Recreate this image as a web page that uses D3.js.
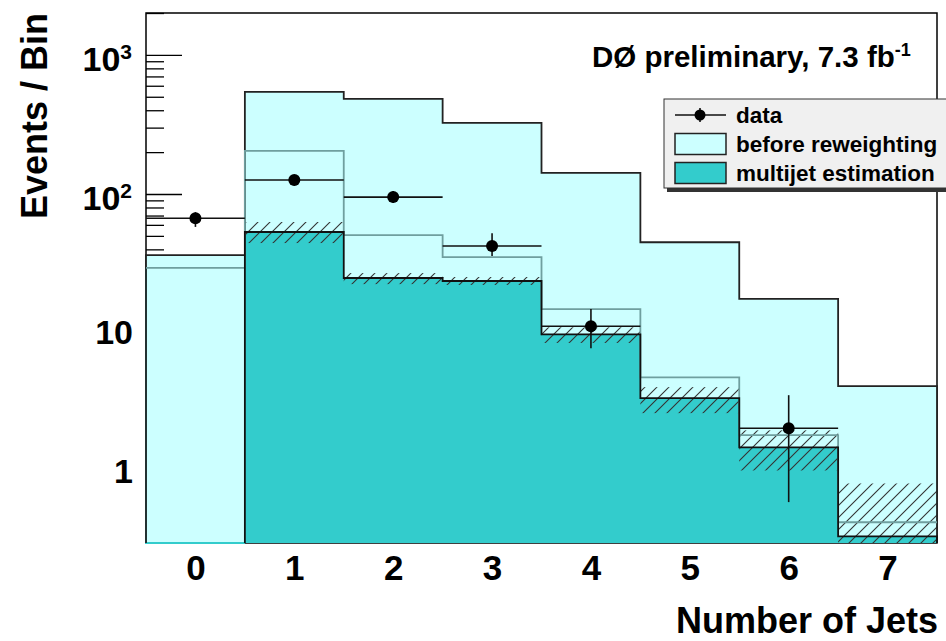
<!DOCTYPE html>
<html>
<head>
<meta charset="utf-8">
<script src="https://cdn.jsdelivr.net/npm/d3@7"></script>
<style>
  body { margin: 0; background: #fff; }
  svg { display: block; }
  text { font-family: "Liberation Sans", Arial, sans-serif; font-weight: bold; fill: #000; }
</style>
</head>
<body>
<svg width="946" height="641"></svg>
<script>
// number of jets
var bins = [0, 1, 2, 3, 4, 5, 6, 7];
// tall light histogram, black outline
var beforeReweight = [36.4, 542, 482, 324, 142, 45, 17.6, 4.16];
// second light histogram, grey outline
var greyHist = [29.4, 204, 50.7, 35.2, 14.9, 4.8, 1.85, 0.437];
// multijet estimation (teal)
var multijet = [null, 53.3, 24.9, 23.7, 9.8, 3.41, 1.51, 0.346];
// hatched uncertainty band on the multijet estimation
var bandLo = [null, 44.4, 22.5, 22.2, 8.5, 2.66, 1.03, 0.2];
var bandHi = [null, 62.9, 27.0, 25.3, 11.0, 4.09, 2.0, 0.83];
// data points and errors
var dataVal = [67, 126, 95, 42.3, 11.2, null, 2.07, null];
var dataLo = [58, 115, 86, 35.9, 7.8, null, 0.61, null];
var dataHi = [74, 137, 105, 52.3, 14.9, null, 3.58, null];

var yMajor = [1, 10, 100, 1000];
var legendLabels = ["data", "before reweighting", "multijet estimation"];

var lightCyan = "#ccffff",
    teal = "#33cccc",
    greyLine = "#6f9f9f";

var svg = d3.select("svg");
var pLeft = 146, pRight = 937, pTop = 13, pBottom = 543;

var x = d3.scaleLinear().domain([-0.5, 7.5]).range([pLeft, pRight]);
var y = d3.scaleLog().domain([0.31, 2000]).range([pBottom, pTop]).clamp(true);
var yv = function (v) { return v == null ? pBottom : y(v); };

var defs = svg.append("defs");
var pat = defs.append("pattern")
    .attr("id", "hatch")
    .attr("patternUnits", "userSpaceOnUse")
    .attr("width", 12).attr("height", 12);
pat.append("path")
    .attr("d", "M-3,3 l6,-6 M0,12 l12,-12 M9,15 l6,-6")
    .attr("stroke", "#333").attr("stroke-width", 1.1);

// frame (fills are drawn on top of it, like in the original)
svg.append("rect")
    .attr("x", pLeft).attr("y", pTop)
    .attr("width", pRight - pLeft).attr("height", pBottom - pTop)
    .attr("fill", "none").attr("stroke", "#000").attr("stroke-width", 1.5);

// y axis ticks, pointing inwards
var minorTicks = [];
[0.1, 1, 10, 100, 1000].forEach(function (d) {
  for (var k = 2; k <= 9; k++) minorTicks.push(d * k);
});
minorTicks = minorTicks.filter(function (v) { return v >= 0.31 && v <= 2000; });

svg.append("g")
    .attr("transform", "translate(" + pLeft + ",0)")
    .call(d3.axisLeft(y).tickValues(minorTicks).tickSizeInner(-18).tickSizeOuter(0).tickFormat(""))
    .call(function (g) { g.select(".domain").remove(); })
    .selectAll("line").attr("stroke", "#000").attr("stroke-width", 1.3);

var yAxisG = svg.append("g")
    .attr("transform", "translate(" + pLeft + ",0)")
    .call(d3.axisLeft(y).tickValues(yMajor).tickSizeInner(-36).tickSizeOuter(0).tickPadding(13).tickFormat(""));
yAxisG.select(".domain").remove();
yAxisG.selectAll("line").attr("stroke", "#000").attr("stroke-width", 1.3);

// step path helper
function stepPoints(vals) {
  var pts = [[x(bins[0] - 0.5), pBottom]];
  vals.forEach(function (v, i) {
    pts.push([x(bins[i] - 0.5), yv(v)]);
    pts.push([x(bins[i] + 0.5), yv(v)]);
  });
  pts.push([x(bins[bins.length - 1] + 0.5), pBottom]);
  return pts;
}
var line = d3.line();

// fills
svg.append("path").attr("d", line(stepPoints(beforeReweight)) + "Z")
    .attr("fill", lightCyan).attr("stroke", "none");
svg.append("path").attr("d", line(stepPoints(multijet)) + "Z")
    .attr("fill", teal).attr("stroke", "none");

// teal edge of bin 0
svg.append("path")
    .attr("d", line([[x(-0.5), yv(greyHist[0])], [x(-0.5), pBottom], [x(0.5), pBottom]]))
    .attr("fill", "none").attr("stroke", teal).attr("stroke-width", 2);

// hatched band
svg.append("g").selectAll("rect")
    .data(bins.filter(function (d, i) { return bandHi[i] != null; }))
    .enter().append("rect")
    .attr("x", function (d) { return x(d - 0.5); })
    .attr("width", function (d) { return x(d + 0.5) - x(d - 0.5); })
    .attr("y", function (d) { return y(bandHi[d]); })
    .attr("height", function (d) { return yv(bandLo[d]) - y(bandHi[d]); })
    .attr("fill", "url(#hatch)");

// outlines
svg.append("path").attr("d", line(stepPoints(beforeReweight)))
    .attr("fill", "none").attr("stroke", "#222").attr("stroke-width", 1.8);
svg.append("path").attr("d", line(stepPoints(greyHist).slice(1, -1)))
    .attr("fill", "none").attr("stroke", greyLine).attr("stroke-width", 1.8);
svg.append("path").attr("d", line(stepPoints(multijet).slice(2)))
    .attr("fill", "none").attr("stroke", "#111").attr("stroke-width", 1.8);

// data points
var pts = svg.append("g").selectAll("g")
    .data(bins.filter(function (d, i) { return dataVal[i] != null; }))
    .enter().append("g");
pts.append("line")
    .attr("x1", function (d) { return x(d - 0.5); })
    .attr("x2", function (d) { return x(d + 0.5); })
    .attr("y1", function (d) { return y(dataVal[d]); })
    .attr("y2", function (d) { return y(dataVal[d]); })
    .attr("stroke", "#111").attr("stroke-width", 1.6);
pts.append("line")
    .attr("x1", function (d) { return x(d); })
    .attr("x2", function (d) { return x(d); })
    .attr("y1", function (d) { return y(dataLo[d]); })
    .attr("y2", function (d) { return y(dataHi[d]); })
    .attr("stroke", "#111").attr("stroke-width", 1.6);
pts.append("circle")
    .attr("cx", function (d) { return x(d); })
    .attr("cy", function (d) { return y(dataVal[d]); })
    .attr("r", 6).attr("fill", "#000");

// y tick labels
yMajor.forEach(function (v) {
  var e = Math.round(Math.log10(v));
  if (v >= 100) {
    var t = svg.append("text")
        .attr("x", pLeft - 14).attr("y", y(v) + 16)
        .attr("text-anchor", "end")
        .style("font-size", "34px");
    t.append("tspan").text("10");
    t.append("tspan").attr("dy", -12).style("font-size", "21px").text(e);
  } else {
    svg.append("text")
        .attr("x", pLeft - 13).attr("y", y(v) + 11)
        .attr("text-anchor", "end")
        .style("font-size", "34px")
        .text(v);
  }
});

// x tick labels
svg.append("g")
    .attr("transform", "translate(0," + pBottom + ")")
    .call(d3.axisBottom(x).tickValues(bins).tickSize(0).tickPadding(0).tickFormat(d3.format("d")))
    .call(function (g) { g.select(".domain").remove(); })
    .selectAll("text")
    .attr("dy", null).attr("y", 37)
    .style("font-size", "35px")
    .style("font-family", "'Liberation Sans', Arial, sans-serif")
    .style("font-weight", "bold")
    .attr("fill", "#000");

// axis titles
svg.append("text")
    .attr("x", 938).attr("y", 633)
    .attr("text-anchor", "end")
    .style("font-size", "36px")
    .text("Number of Jets");

svg.append("text")
    .attr("transform", "translate(47,13) rotate(-90)")
    .attr("text-anchor", "end")
    .style("font-size", "36px")
    .text("Events / Bin");

// experiment label
var lab = svg.append("text")
    .attr("x", 592).attr("y", 67)
    .style("font-size", "29.5px");
lab.append("tspan").text("DØ preliminary, 7.3 fb");
lab.append("tspan").attr("dy", -11).style("font-size", "18px").text("-1");

// legend
var lg = svg.append("g").attr("transform", "translate(664,99)");
lg.append("rect").attr("x", 3).attr("y", 3).attr("width", 290).attr("height", 90).attr("fill", "#333");
lg.append("rect").attr("width", 290).attr("height", 89)
    .attr("fill", "#f0f0f0").attr("stroke", "#333").attr("stroke-width", 1);

var rowY = [16, 45, 74];
var row = lg.selectAll(".row")
    .data(legendLabels)
    .enter().append("g")
    .attr("class", "row")
    .attr("transform", function (d, i) { return "translate(0," + rowY[i] + ")"; });

row.append("text")
    .attr("x", 72).attr("y", 8)
    .style("font-size", "22.5px")
    .text(function (d) { return d; });

var dataRow = row.filter(function (d, i) { return i === 0; });
dataRow.append("line").attr("x1", 11).attr("x2", 62).attr("y1", 0).attr("y2", 0)
    .attr("stroke", "#111").attr("stroke-width", 1.6);
dataRow.append("line").attr("x1", 36).attr("x2", 36).attr("y1", -7).attr("y2", 7)
    .attr("stroke", "#111").attr("stroke-width", 1.6);
dataRow.append("circle").attr("cx", 36).attr("cy", 0).attr("r", 5.5).attr("fill", "#000");

row.filter(function (d, i) { return i > 0; })
    .append("rect")
    .attr("x", 11).attr("y", -10.5).attr("width", 51).attr("height", 21)
    .attr("fill", function (d, i) { return i === 0 ? lightCyan : teal; })
    .attr("stroke", "#222").attr("stroke-width", 1.5);
</script>
</body>
</html>
